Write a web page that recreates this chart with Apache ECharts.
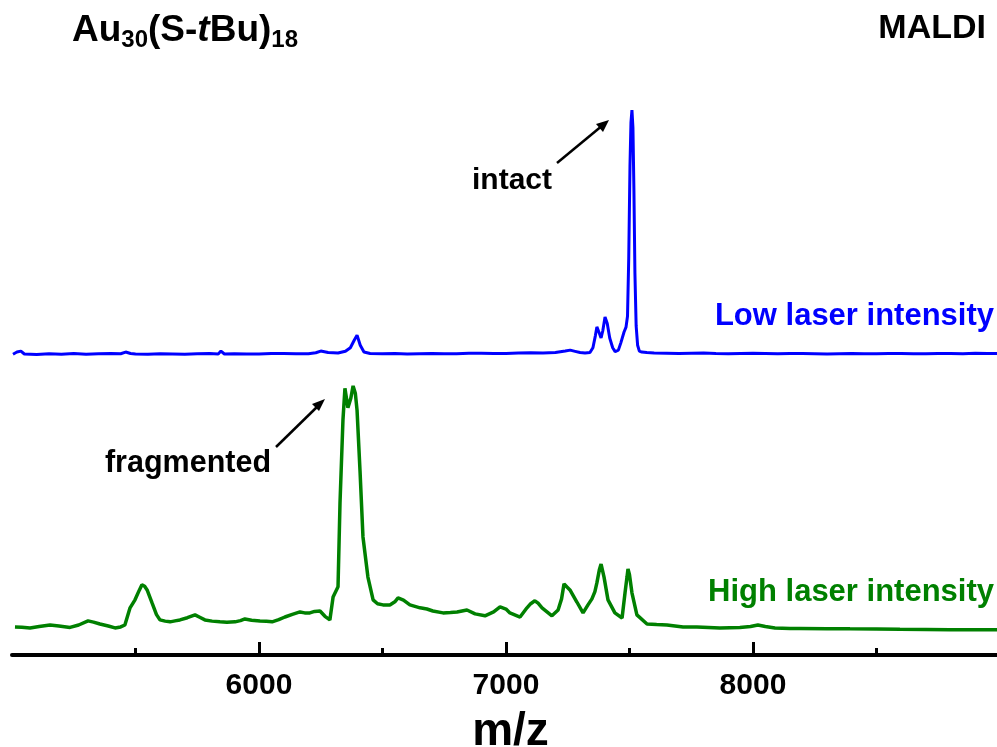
<!DOCTYPE html>
<html>
<head>
<meta charset="utf-8">
<script src="https://cdn.jsdelivr.net/npm/echarts@6/dist/echarts.min.js"></script>
<style>
  html, body { margin: 0; padding: 0; background: #fff; }
  #chart { width: 997px; height: 747px; }
</style>
</head>
<body>
<div id="chart"></div>
<script>
// MALDI spectra of Au30(S-tBu)18 at two laser intensities (relative intensity, a.u.)

const majorTicks = [6000, 7000, 8000];
const minorTicks = [5500, 6500, 7500, 8500];

// Low laser intensity trace
const lowMz = [
  5004, 5020, 5036, 5050, 5100, 5150, 5200, 5250, 5300, 5350, 5400, 5440, 5460, 5480,
  5500, 5550, 5600, 5650, 5700, 5750, 5800, 5835, 5846, 5860, 5900, 5950, 6000, 6050,
  6100, 6150, 6200, 6230, 6250, 6280, 6320, 6350, 6370, 6385, 6397, 6410, 6425, 6450,
  6500, 6550, 6600, 6650, 6700, 6750, 6800, 6850, 6900, 6950, 7000, 7050, 7100, 7150,
  7200, 7240, 7260, 7280, 7300, 7320, 7340, 7352, 7362, 7368, 7378, 7385, 7392, 7401,
  7410, 7420, 7432, 7442, 7455, 7465, 7478, 7486, 7492, 7497, 7502, 7506, 7510, 7514,
  7518, 7522, 7527, 7533, 7540, 7550, 7570, 7600, 7650, 7700, 7750, 7800, 7850, 7900,
  7950, 8000, 8050, 8100, 8150, 8200, 8250, 8300, 8350, 8400, 8450, 8500, 8550, 8600,
  8650, 8700, 8750, 8800, 8850, 8900, 8950, 8988
];
const lowInt = [
  0.3, 1.2, 1.6, 0.4, 0.2, 0.5, 0.3, 0.6, 0.3, 0.5, 0.6, 0.5, 1.2, 0.6,
  0.4, 0.3, 0.5, 0.4, 0.3, 0.5, 0.6, 0.4, 1.6, 0.4, 0.5, 0.4, 0.4, 0.6,
  0.6, 0.5, 0.5, 0.9, 1.6, 1.0, 0.8, 1.5, 3.0, 6.0, 8.2, 4.0, 1.2, 0.6,
  0.5, 0.6, 0.4, 0.5, 0.6, 0.5, 0.5, 0.7, 0.7, 0.6, 0.6, 0.8, 0.9, 0.8,
  1.0, 1.6, 2.0, 1.5, 1.0, 0.8, 1.0, 3.0, 8.0, 11.6, 9.0, 7.0, 10.0, 15.7,
  13.0, 7.0, 3.0, 1.4, 2.0, 5.0, 9.5, 11.5, 16.0, 40.0, 78.0, 96.0, 101.2, 94.0,
  68.0, 34.0, 12.0, 4.0, 1.6, 1.2, 1.0, 0.8, 0.7, 0.6, 0.7, 0.8, 0.6, 0.5,
  0.6, 0.7, 0.6, 0.5, 0.6, 0.6, 0.5, 0.4, 0.5, 0.6, 0.5, 0.5, 0.6, 0.6,
  0.5, 0.5, 0.6, 0.6, 0.5, 0.7, 0.6, 0.6
];

// High laser intensity trace
const highMz = [
  5012, 5040, 5073, 5110, 5154, 5190, 5235, 5270, 5308, 5330, 5356, 5390, 5417, 5440,
  5457, 5478, 5498, 5515, 5526, 5537, 5547, 5567, 5585, 5599, 5620, 5640, 5660, 5680,
  5710, 5741, 5760, 5781, 5810, 5842, 5870, 5903, 5925, 5943, 5970, 6004, 6030, 6053,
  6080, 6105, 6135, 6166, 6185, 6206, 6225, 6247, 6267, 6287, 6300, 6320, 6328, 6340,
  6348, 6354, 6360, 6366, 6372, 6381, 6390, 6397, 6409, 6421, 6441, 6462, 6480, 6502,
  6530, 6550, 6563, 6585, 6611, 6652, 6680, 6704, 6745, 6775, 6802, 6842, 6875, 6915,
  6950, 6976, 7000, 7016, 7057, 7085, 7100, 7117, 7130, 7146, 7186, 7211, 7225, 7235,
  7246, 7259, 7287, 7312, 7332, 7348, 7360, 7368, 7378, 7385, 7397, 7413, 7441, 7470,
  7482, 7490, 7494, 7500, 7510, 7530, 7571, 7610, 7652, 7717, 7773, 7820, 7866, 7947,
  7990, 8020, 8050, 8089, 8150, 8190, 8300, 8393, 8500, 8595, 8700, 8798, 8900, 8988
];
const highInt = [
  0.4, 0.3, 0.0, 0.6, 1.2, 0.8, 0.2, 1.2, 2.9, 2.4, 1.6, 0.8, 0.0, 0.4,
  1.2, 8.3, 11.6, 15.5, 17.8, 17.2, 15.7, 10.3, 5.5, 3.3, 2.8, 2.5, 2.9, 3.3,
  4.2, 5.4, 4.4, 3.3, 2.8, 2.5, 2.3, 2.5, 3.0, 3.7, 3.2, 2.9, 2.7, 2.5,
  3.4, 4.5, 5.6, 6.6, 6.2, 6.2, 6.8, 7.0, 4.8, 3.3, 12.8, 17.0, 51.6, 86.0,
  99.0, 95.0, 91.0, 93.0, 95.0, 100.0, 97.0, 90.0, 65.0, 37.6, 21.0, 11.6, 10.0, 9.5,
  9.5, 10.8, 12.4, 11.5, 9.5, 8.3, 7.8, 7.0, 6.2, 6.4, 6.6, 7.4, 5.8, 5.0,
  6.6, 8.7, 7.8, 6.2, 4.5, 8.3, 10.0, 11.2, 10.2, 8.3, 5.0, 7.4, 12.0, 18.2,
  17.0, 15.7, 10.7, 6.2, 9.5, 12.0, 15.0, 18.6, 24.0, 26.4, 21.0, 11.6, 6.2, 4.1,
  14.5, 21.0, 24.4, 22.0, 14.5, 5.4, 1.6, 1.4, 1.2, 0.4, 0.4, 0.2, 0.0, 0.2,
  0.6, 1.2, 0.6, 0.0, -0.2, -0.2, -0.3, -0.4, -0.5, -0.6, -0.7, -0.8, -0.8, -0.8
];

// Vertical stacking of the two traces on a shared intensity axis
const yMax = 270.7;
const lowOffset = 124.0;
const highOffset = 11.2;

const FONT = '"Liberation Sans", Arial, sans-serif';
const BLUE = '#0000ff';
const GREEN = '#008000';

const chart = echarts.init(document.getElementById('chart'), null, { renderer: 'canvas' });

const toPairs = (mz, val, off) => mz.map((m, i) => [m, val[i] + off]);

chart.setOption({
  animation: false,
  backgroundColor: '#ffffff',
  grid: { left: 12, right: 0, top: 0, bottom: 92, containLabel: false, outerBoundsMode: 'none' },
  xAxis: [
    {
      type: 'value',
      min: 5000,
      max: 8988,
      position: 'bottom',
      axisLine: { show: true, onZero: false, lineStyle: { color: '#000', width: 4 } },
      axisTick: {
        show: true, inside: true, length: 13, customValues: majorTicks,
        lineStyle: { color: '#000', width: 3 }
      },
      axisLabel: {
        show: true, customValues: majorTicks, margin: 16,
        formatter: (v) => String(v),
        color: '#000', fontFamily: FONT, fontWeight: 'bold', fontSize: 30
      },
      splitLine: { show: false },
      name: 'm/z',
      nameLocation: 'middle',
      nameGap: 54,
      nameTextStyle: {
        color: '#000', fontFamily: FONT, fontWeight: 'bold', fontSize: 46,
        padding: [0, 0, 0, 12]
      }
    },
    {
      type: 'value',
      min: 5000,
      max: 8988,
      position: 'bottom',
      axisLine: { show: false, onZero: false },
      axisTick: {
        show: true, inside: true, length: 7, customValues: minorTicks,
        lineStyle: { color: '#000', width: 3 }
      },
      axisLabel: { show: false },
      splitLine: { show: false }
    }
  ],
  yAxis: {
    type: 'value', min: 0, max: yMax, show: false,
    splitLine: { show: false }
  },
  series: [
    {
      name: 'Low laser intensity',
      type: 'line',
      xAxisIndex: 0,
      data: toPairs(lowMz, lowInt, lowOffset),
      showSymbol: false,
      lineStyle: { color: BLUE, width: 3 },
      itemStyle: { color: BLUE },
      clip: false
    },
    {
      name: 'High laser intensity',
      type: 'line',
      xAxisIndex: 0,
      data: toPairs(highMz, highInt, highOffset),
      showSymbol: false,
      lineStyle: { color: GREEN, width: 3.5 },
      itemStyle: { color: GREEN },
      clip: false
    }
  ],
  graphic: [
    {
      type: 'text', x: 72, y: 31,
      style: {
        text: '{b|Au}{s|30}{b|(S-}{i|t}{b|Bu)}{s|18}',
        verticalAlign: 'middle', align: 'left',
        rich: {
          b: { font: 'bold 37px ' + FONT, fill: '#000', lineHeight: 42 },
          i: { font: 'italic bold 37px ' + FONT, fill: '#000', lineHeight: 42 },
          s: { font: 'bold 24px ' + FONT, fill: '#000', lineHeight: 16, verticalAlign: 'bottom' }
        }
      }
    },
    {
      type: 'text', x: 986, y: 29,
      style: { text: 'MALDI', font: 'bold 34px ' + FONT, fill: '#000', align: 'right', verticalAlign: 'middle' }
    },
    {
      type: 'text', x: 994, y: 316,
      style: { text: 'Low laser intensity', font: 'bold 31px ' + FONT, fill: BLUE, align: 'right', verticalAlign: 'middle' }
    },
    {
      type: 'text', x: 994, y: 592,
      style: { text: 'High laser intensity', font: 'bold 31px ' + FONT, fill: GREEN, align: 'right', verticalAlign: 'middle' }
    },
    {
      type: 'text', x: 512, y: 181,
      style: { text: 'intact', font: 'bold 30px ' + FONT, fill: '#000', align: 'center', verticalAlign: 'middle' }
    },
    {
      type: 'text', x: 188, y: 464,
      style: { text: 'fragmented', font: 'bold 30.5px ' + FONT, fill: '#000', align: 'center', verticalAlign: 'middle' }
    },
    // arrow pointing at the intact cluster peak
    {
      type: 'line',
      shape: { x1: 557, y1: 163, x2: 603, y2: 125 },
      style: { stroke: '#000', lineWidth: 2.5 }
    },
    {
      type: 'polygon',
      shape: { points: [[609, 120], [596, 124], [603, 132]] },
      style: { fill: '#000' }
    },
    // arrow pointing at the fragment peak
    {
      type: 'line',
      shape: { x1: 276, y1: 447, x2: 319, y2: 405 },
      style: { stroke: '#000', lineWidth: 2.5 }
    },
    {
      type: 'polygon',
      shape: { points: [[325, 399], [312, 404], [319, 411]] },
      style: { fill: '#000' }
    }
  ]
});
</script>
</body>
</html>
